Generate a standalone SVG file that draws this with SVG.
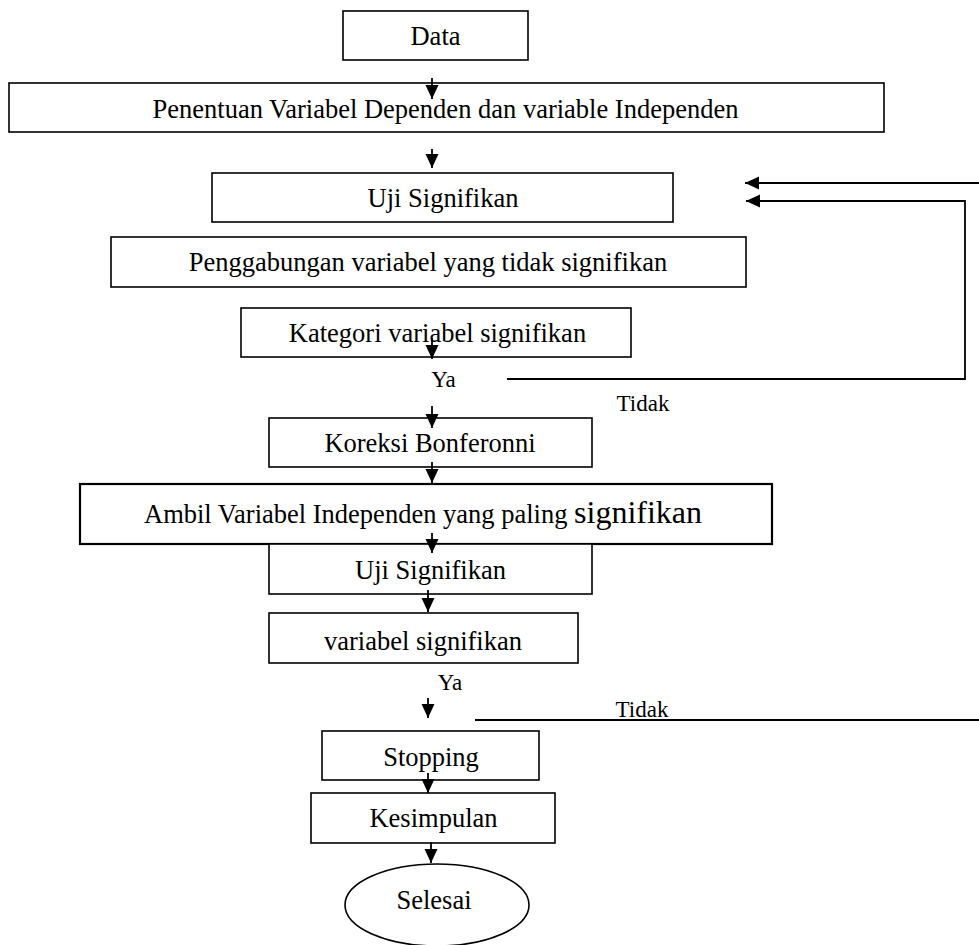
<svg xmlns="http://www.w3.org/2000/svg" width="979" height="945" viewBox="0 0 979 945">
<style>
  .box { fill: #fff; stroke: #000; stroke-width: 1.6; }
  .t { font-family: "Liberation Serif", "Times New Roman", serif; font-size: 26.5px; fill: #000; text-anchor: middle; }
  .s { font-family: "Liberation Serif", "Times New Roman", serif; font-size: 23px; fill: #000; text-anchor: middle; }
  .c { fill: none; stroke: #000; stroke-width: 1.8; }
</style>
<defs>
  <marker id="ah" markerUnits="userSpaceOnUse" markerWidth="16" markerHeight="14" refX="14" refY="6.5" orient="auto">
    <path d="M0,0 L14,6.5 L0,13 Z" fill="#000"/>
  </marker>
</defs>
<rect width="979" height="945" fill="#fff"/>

<g id="n-data"><rect class="box" x="343" y="11" width="185" height="49"/><text class="t" x="435.5" y="45">Data</text></g>
<g id="n-penentuan"><rect class="box" x="9" y="83" width="875" height="49"/><text class="t" x="445.5" y="118">Penentuan Variabel Dependen dan variable Independen</text></g>
<g id="n-uji1"><rect class="box" x="212" y="173" width="461" height="49"/><text class="t" x="443" y="207">Uji Signifikan</text></g>
<g id="n-penggabungan"><rect class="box" x="111" y="237" width="635" height="50"/><text class="t" x="428" y="271">Penggabungan variabel yang tidak signifikan</text></g>
<g id="n-kategori"><rect class="box" x="241" y="308" width="390" height="49"/><text class="t" x="437.5" y="342">Kategori variabel signifikan</text></g>
<g id="n-koreksi"><rect class="box" x="269" y="418" width="323" height="49"/><text class="t" x="430" y="452">Koreksi Bonferonni</text></g>
<g id="n-ambil"><rect class="box" x="80" y="484" width="692" height="60" style="stroke-width:2.2"/><text class="t" x="144" y="523" style="text-anchor:start">Ambil Variabel Independen yang paling <tspan style="font-size:32px">signifikan</tspan></text></g>
<g id="n-uji2"><rect class="box" x="269" y="544" width="323" height="50"/><text class="t" x="430.5" y="579">Uji Signifikan</text></g>
<g id="n-varsig"><rect class="box" x="269" y="613" width="309" height="50"/><text class="t" x="423" y="650">variabel signifikan</text></g>
<g id="n-stopping"><rect class="box" x="322" y="731" width="217" height="49"/><text class="t" x="431" y="766">Stopping</text></g>
<g id="n-kesimpulan"><rect class="box" x="311" y="793" width="244" height="50"/><text class="t" x="433.5" y="827">Kesimpulan</text></g>
<g id="n-selesai"><ellipse class="box" cx="437" cy="905" rx="92" ry="41"/><text class="t" x="434" y="909">Selesai</text></g>

<g id="labels">
  <text class="s" x="443.5" y="387">Ya</text>
  <text class="s" x="643" y="411">Tidak</text>
  <text class="s" x="450" y="690">Ya</text>
  <text class="s" x="642" y="717">Tidak</text>
</g>

<g id="connectors">
  <line class="c" x1="432" y1="78" x2="432" y2="99" marker-end="url(#ah)"/>
  <line class="c" x1="432" y1="149" x2="432" y2="168" marker-end="url(#ah)"/>
  <line class="c" x1="432" y1="338" x2="432" y2="359" marker-end="url(#ah)"/>
  <line class="c" x1="432" y1="406" x2="432" y2="428" marker-end="url(#ah)"/>
  <line class="c" x1="432" y1="462" x2="432" y2="483" marker-end="url(#ah)"/>
  <line class="c" x1="432" y1="533" x2="432" y2="553" marker-end="url(#ah)"/>
  <line class="c" x1="428" y1="590" x2="428" y2="612" marker-end="url(#ah)"/>
  <line class="c" x1="428" y1="698" x2="428" y2="718" marker-end="url(#ah)"/>
  <line class="c" x1="428" y1="773" x2="428" y2="793" marker-end="url(#ah)"/>
  <line class="c" x1="431" y1="842" x2="431" y2="863" marker-end="url(#ah)"/>
  <line class="c" x1="979" y1="183" x2="745" y2="183" marker-end="url(#ah)"/>
  <polyline class="c" points="507,379 965,379 965,201 746,201" marker-end="url(#ah)"/>
  <line class="c" x1="475" y1="720" x2="979" y2="720"/>
</g>
</svg>
